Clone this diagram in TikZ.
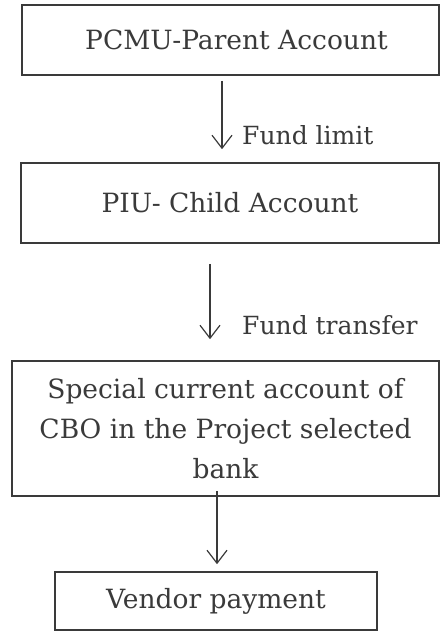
\documentclass[tikz,border=0pt]{standalone}
\usepackage{fontspec}
\setmainfont{DejaVu Serif}
\usetikzlibrary{arrows.meta}
\definecolor{ink}{HTML}{3A3A3A}
\begin{document}
\begin{tikzpicture}[x=1pt,y=1pt,
  box/.style={draw=ink, line width=1.6pt, text=ink, inner sep=0pt, align=center,
    font=\fontsize{26.5}{40}\selectfont},
  arr/.style={draw=ink, line width=1.2pt, -{Straight Barb[length=13pt,width=20pt,line width=1.2pt]}},
  lbl/.style={text=ink, anchor=west, inner sep=0pt, font=\fontsize{25}{30}\selectfont}]
\useasboundingbox (0,0) rectangle (440,-632);
\node[box, minimum width=417pt, minimum height=70pt] (b1) at (230.5,-40) {\hspace*{12pt}PCMU-Parent Account};
\node[box, minimum width=418pt, minimum height=80pt] (b2) at (230,-203) {PIU- Child Account};
\node[box, minimum width=427pt, minimum height=135pt] (b3) at (225.5,-428.5)
  {Special current account of\\CBO in the Project selected\\bank};
\node[box, minimum width=322pt, minimum height=58pt] (b4) at (216,-601) {Vendor payment};
\coordinate (x1) at (222,0);
\coordinate (x2) at (210,0);
\coordinate (x3) at (217,0);
\draw[arr, shorten <=5pt, shorten >=13pt] (b1.south -| x1) -- (b2.north -| x1);
\draw[arr, shorten <=20pt, shorten >=21pt] (b2.south -| x2) -- (b3.north -| x2);
\draw[arr, shorten <=-6pt, shorten >=7pt] (b3.south -| x3) -- (b4.north -| x3);
\node[lbl] (l1) at (242,-135) {Fund limit};
\node[lbl] (l2) at (242,-325) {Fund transfer};
\end{tikzpicture}
\end{document}
